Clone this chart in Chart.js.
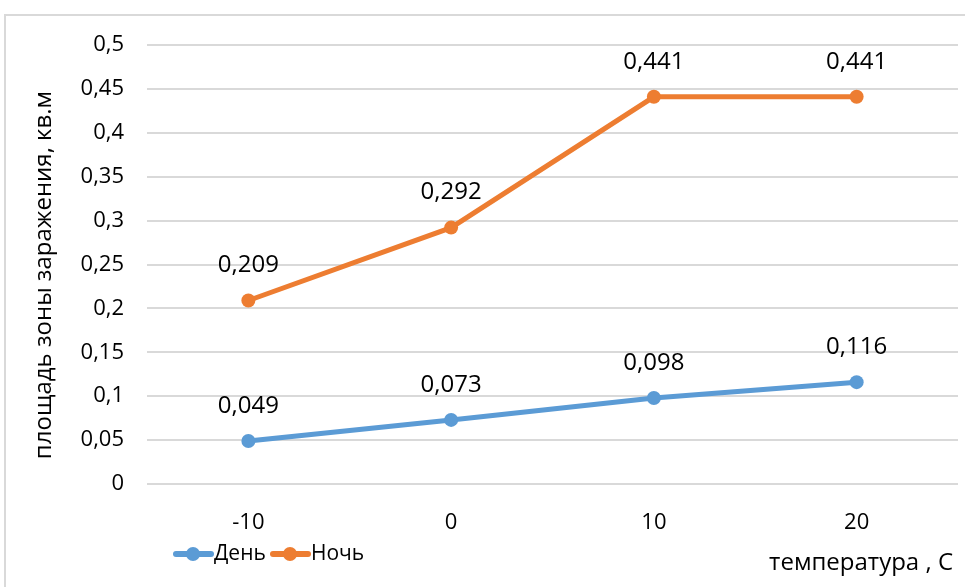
<!DOCTYPE html>
<html>
<head>
<meta charset="utf-8">
<script src="https://cdn.jsdelivr.net/npm/chart.js@4"></script>
<style>
  body { margin: 0; background: #fff; }
  canvas { display: block; }
</style>
</head>
<body>
<canvas id="chart" width="965" height="587"></canvas>
<script>
// --- DATA ---
const temperatures = ['-10', '0', '10', '20'];
const dayArea = [0.049, 0.073, 0.098, 0.116];
const nightArea = [0.209, 0.292, 0.441, 0.441];
const seriesNames = ['День', 'Ночь'];
const yTitle = 'площадь зоны заражения, кв.м';
const xTitle = 'температура , С';

// Colors
const colors = {
    blue: '#5b9bd5',
    orange: '#ed7d31',
    grid: '#d9d9d9',
    text: '#000000'
};

const fontFamily = '"Open Sans", sans-serif';
const formatComma = (v) => String(+v.toFixed(3)).replace('.', ',');

// Chart frame, value labels, legend and axis titles
const decorations = {
    id: 'decorations',
    beforeDraw(chart) {
        const ctx = chart.ctx;
        ctx.save();
        ctx.strokeStyle = colors.grid;
        ctx.lineWidth = 2;
        ctx.strokeRect(5, 15, 1000, 700);
        ctx.restore();
    },
    afterDatasetsDraw(chart) {
        const ctx = chart.ctx;
        ctx.save();
        ctx.fillStyle = colors.text;
        ctx.font = '24px ' + fontFamily;
        ctx.textAlign = 'center';
        ctx.textBaseline = 'middle';
        chart.data.datasets.forEach((ds, i) => {
            chart.getDatasetMeta(i).data.forEach((pt, j) => {
                ctx.fillText(formatComma(ds.data[j]), pt.x, pt.y - 35);
            });
        });

        // legend
        const legendX = [176, 273];
        const legendY = 554;
        ctx.textAlign = 'left';
        ctx.font = '21px ' + fontFamily;
        chart.data.datasets.forEach((ds, i) => {
            const x = legendX[i];
            ctx.strokeStyle = ds.borderColor;
            ctx.lineWidth = 6;
            ctx.lineCap = 'round';
            ctx.beginPath();
            ctx.moveTo(x, legendY);
            ctx.lineTo(x + 35, legendY);
            ctx.stroke();
            ctx.fillStyle = ds.borderColor;
            ctx.beginPath();
            ctx.arc(x + 17, legendY, 7, 0, Math.PI * 2);
            ctx.fill();
            ctx.fillStyle = colors.text;
            ctx.fillText(ds.label, x + 38, legendY);
        });

        // axis titles
        ctx.font = '24px ' + fontFamily;
        ctx.textAlign = 'right';
        ctx.fillText(xTitle, 953, 563);
        ctx.translate(44, 275);
        ctx.rotate(-Math.PI / 2);
        ctx.textAlign = 'center';
        ctx.fillText(yTitle, 0, 0);
        ctx.restore();
    }
};

const ctx = document.getElementById('chart').getContext('2d');
new Chart(ctx, {
    type: 'line',
    data: {
        labels: temperatures,
        datasets: [
            { label: seriesNames[0], data: dayArea, borderColor: colors.blue, backgroundColor: colors.blue,
              borderWidth: 5, pointRadius: 7, pointHoverRadius: 7, pointBorderWidth: 0, tension: 0 },
            { label: seriesNames[1], data: nightArea, borderColor: colors.orange, backgroundColor: colors.orange,
              borderWidth: 5, pointRadius: 7, pointHoverRadius: 7, pointBorderWidth: 0, tension: 0 }
        ]
    },
    options: {
        responsive: false,
        animation: false,
        devicePixelRatio: 1,
        layout: { padding: { top: 45, right: 3, left: 0, bottom: 0 } },
        scales: {
            x: {
                offset: true,
                grid: { display: false },
                border: { display: false },
                ticks: { color: colors.text, font: { family: fontFamily, size: 22 }, padding: 18 },
                afterFit: (scale) => { scale.height = 103; }
            },
            y: {
                min: 0,
                max: 0.5,
                border: { display: false },
                grid: { color: colors.grid, lineWidth: 2, drawTicks: false },
                ticks: { stepSize: 0.05, color: colors.text, font: { family: fontFamily, size: 22 }, padding: 23,
                         callback: (value) => formatComma(value) },
                afterFit: (scale) => { scale.width = 147; }
            }
        },
        plugins: {
            legend: { display: false },
            tooltip: { enabled: false }
        }
    },
    plugins: [decorations]
});
</script>
</body>
</html>
